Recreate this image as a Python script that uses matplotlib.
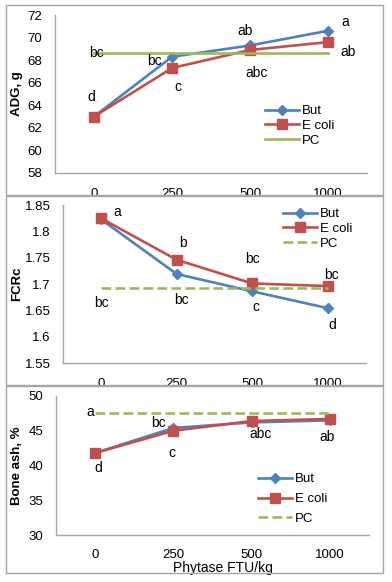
import matplotlib
matplotlib.use("Agg")
import matplotlib.pyplot as plt
from matplotlib.patches import Rectangle

plt.rcParams["font.family"] = ["Liberation Sans", "DejaVu Sans"]

doses = ["0", "250", "500", "1000"]
series_names = ["But", "E coli", "PC"]

adg_but = [63.0, 68.3, 69.3, 70.6]
adg_ecoli = [63.0, 67.3, 68.9, 69.6]
adg_pc = [68.65, 68.65, 68.65, 68.65]
adg_letters = [("bc", 0.03, 68.63), ("d", -0.04, 64.74), ("bc", 0.77, 67.93),
               ("c", 1.08, 65.62), ("ab", 1.94, 70.58), ("abc", 2.09, 66.86),
               ("a", 3.22, 71.38), ("ab", 3.26, 68.72)]

fcr_but = [1.823, 1.719, 1.686, 1.654]
fcr_ecoli = [1.825, 1.746, 1.701, 1.696]
fcr_pc = [1.693, 1.693, 1.693, 1.693]
fcr_letters = [("a", 0.21, 1.837), ("b", 1.08, 1.778), ("bc", 2.0, 1.748),
               ("bc", 3.05, 1.717), ("bc", 0.01, 1.664), ("bc", 1.07, 1.670),
               ("c", 2.05, 1.656), ("d", 3.05, 1.622)]

ash_but = [41.8, 45.4, 46.2, 46.5]
ash_ecoli = [41.8, 45.0, 46.4, 46.7]
ash_pc = [47.6, 47.6, 47.6, 47.6]
ash_letters = [("a", -0.06, 47.7), ("bc", 0.81, 46.1), ("c", 0.98, 41.8),
               ("d", 0.04, 39.6), ("abc", 2.11, 44.5), ("ab", 2.97, 44.1)]

W, H = 392, 582
fig = plt.figure(figsize=(W / 100, H / 100), dpi=100)

BLUE, RED, GREEN = "#4F81BD", "#C0504D", "#9BBB59"
AXC = "#A6A6A6"


def px_axes(x0, y0, x1, y1):
    return fig.add_axes([x0 / W, 1 - y1 / H, (x1 - x0) / W, (y1 - y0) / H])


def border(x0, y0, x1, y1):
    fig.patches.append(Rectangle((x0 / W, 1 - y1 / H), (x1 - x0) / W, (y1 - y0) / H,
                                 transform=fig.transFigure, fill=False,
                                 edgecolor=AXC, linewidth=1.0))


def panel(box, ylim, yticks, fmt, ylabel, but, ecoli, pc, pc_style, letters, leg, xpad=11):
    ax = px_axes(*box)
    x = range(len(doses))
    ax.plot(x, but, color=BLUE, lw=1.9, marker="D", ms=5, label=series_names[0])
    ax.plot(x, ecoli, color=RED, lw=1.9, marker="s", ms=7.5, label=series_names[1])
    ax.plot(x, pc, color=GREEN, lw=1.9, linestyle=pc_style, label=series_names[2])
    ax.set_xlim(-0.5, 3.5)
    ax.set_ylim(*ylim)
    ax.set_yticks(yticks)
    ax.set_yticklabels([fmt(v) for v in yticks])
    ax.set_xticks(list(x))
    ax.set_xticklabels(doses)
    ax.tick_params(axis="both", length=0, labelsize=9.5, colors="black")
    ax.tick_params(axis="x", pad=xpad)
    ax.tick_params(axis="y", pad=9)
    for s in ["top", "right"]:
        ax.spines[s].set_visible(False)
    for s in ["left", "bottom"]:
        ax.spines[s].set_color(AXC)
        ax.spines[s].set_linewidth(1.0)
    ax.set_ylabel(ylabel, fontsize=9.5, fontweight="bold")
    ax.yaxis.set_label_coords((23 - box[0]) / (box[2] - box[0]), 0.5)
    for t, lx, ly in letters:
        ax.text(lx, ly, t, ha="center", va="center", fontsize=10)
    lx, ly, spacing = leg
    ax.legend(loc="upper left", bbox_to_anchor=(lx / W, 1 - ly / H),
              bbox_transform=fig.transFigure, frameon=False, fontsize=9.5,
              handlelength=2.6, handletextpad=0.2, labelspacing=spacing,
              borderpad=0, borderaxespad=0)
    return ax


border(6, 5, 383, 195)
border(6, 196, 383, 385)
border(6, 386, 383, 573)

panel((55, 15, 367, 173), (58, 72), [58, 60, 62, 64, 66, 68, 70, 72],
      lambda v: f"{v:.0f}", "ADG, g", adg_but, adg_ecoli, adg_pc, "-",
      adg_letters, (265, 105, 0.2))
panel((63, 205, 366, 363), (1.55, 1.85), [1.55, 1.6, 1.65, 1.7, 1.75, 1.8, 1.85],
      lambda v: f"{v:g}", "FCRc", fcr_but, fcr_ecoli, fcr_pc, "--",
      fcr_letters, (283, 208, 0.2))
ax3 = panel((56, 396, 369, 535), (30, 50), [30, 35, 40, 45, 50],
            lambda v: f"{v:.0f}", "Bone ash, %", ash_but, ash_ecoli, ash_pc, "--",
            ash_letters, (258, 473, 0.58), xpad=10)
ax3.set_xlabel("Phytase FTU/kg", fontsize=10, labelpad=0)
ax3.xaxis.set_label_coords((223 - 56) / (369 - 56), -(561 - 535) / (535 - 396))

fig.savefig("out.png", dpi=100)
